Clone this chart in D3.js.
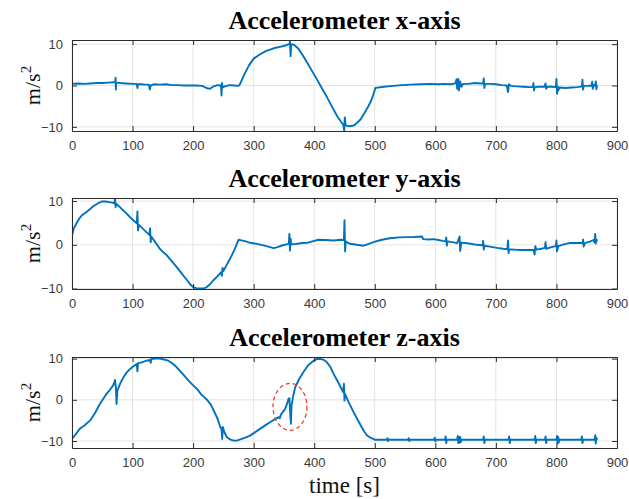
<!DOCTYPE html>
<html>
<head>
<meta charset="utf-8">
<script src="https://cdn.jsdelivr.net/npm/d3@7"></script>
<style>
  html, body { margin: 0; padding: 0; background: #fff; }
  svg { display: block; }
</style>
</head>
<body>
<div id="chart"></div>
<script>
// ---------------- DATA (time [s], acceleration [m/s^2]) ----------------
const xTickValues = [0, 100, 200, 300, 400, 500, 600, 700, 800, 900];
const yTickValues = [-10, 0, 10];
const titles = ["Accelerometer x-axis", "Accelerometer y-axis", "Accelerometer z-axis"];
const yDomains = [[-11, 11], [-10.1, 10.7], [-11.7, 10.4]];
const timeDomain = [0, 900];

const accX = [[0,0.4],[10,0.5],[20,0.4],[30,0.5],[40,0.6],[50,0.6],[60,0.7],[70,0.8],[71.5,0.8],[72,1.9],[72.5,-1.0],[73,0.7],[80,0.6],[90,0.5],[100,0.4],[107,0.4],[108,-0.6],[109,0.3],[115,0.3],[120,0.2],[127,0.2],[128.5,-1.0],[130,0],[135,0.3],[145,0.2],[155,0.3],[165,0.1],[175,0.1],[185,0],[195,0],[205,0],[215,-0.1],[222,-0.6],[228,-0.8],[234,-0.2],[240,0.1],[246,0],[247,-2.4],[247.6,0.6],[248.5,-0.5],[252,-0.2],[260,0.1],[268,0],[275,-0.1],[277,0.2],[285,2.8],[292,4.8],[300,6.5],[310,7.5],[320,8.3],[333,9.0],[345,9.4],[355,9.8],[359,10.0],[360,10.7],[361,7.1],[362,9.9],[366,9.9],[374,8.9],[381,7.3],[388,5.6],[396,3.6],[404,1.6],[412,-0.5],[421,-2.8],[430,-5.3],[437.5,-7.3],[444,-8.7],[448,-9.5],[449.5,-10.9],[450.5,-7.7],[452,-9.7],[459.5,-9.85],[466,-9.6],[471,-9.0],[477,-8.1],[482,-6.9],[488,-5.4],[493,-4.0],[497,-2.5],[501,-0.6],[505,-0.5],[515,-0.3],[530,-0.1],[545,0.1],[560,0.2],[575,0.3],[592,0.4],[605,0.3],[615,0.4],[625,0.3],[633,0.5],[635,1.5],[636,-0.8],[638,1.6],[639,-1.2],[641,1.0],[643,-0.3],[646,0.4],[655,0.4],[665,0.6],[675,0.5],[679,0.5],[680,1.7],[681,-0.6],[682,0.4],[690,0.4],[700,0.3],[710,0.1],[718,0.0],[720,-1.6],[721.5,0.3],[725,-0.1],[735,-0.2],[745,-0.3],[755,-0.4],[761,-0.4],[762,0.6],[763,-1.2],[764,-0.4],[770,-0.3],[780,-0.3],[782,0.5],[783,-0.8],[785,-0.3],[792,-0.3],[799,-0.4],[800,1.6],[801,-2.0],[802,-0.2],[803,-1.2],[805,-0.5],[815,-0.6],[825,-0.5],[835,-0.4],[842,-0.2],[843,1.4],[844,-1.0],[845,-0.1],[852,-0.1],[858,0],[859,0.9],[860,-0.8],[862,0.1],[864,0],[865,1.0],[866,-0.9],[867,0.1]];

const accY = [[0,2.1],[3,3.8],[7,4.8],[12,6.0],[16,6.7],[24,7.5],[30,8.2],[35,8.8],[42,9.4],[49,9.9],[55,9.9],[62,9.75],[68,9.6],[70,9.5],[71,10.7],[72,8.6],[73,9.4],[77,8.9],[82,8.2],[89,7.3],[96,6.3],[102,5.5],[107,4.9],[108,7.6],[109,3.3],[110,4.6],[116,3.8],[123,2.9],[128,2.2],[129,3.8],[130,0.6],[131,1.9],[138,0.5],[145,-0.9],[150,-1.6],[156,-2.3],[165,-3.8],[173,-5.1],[182,-6.7],[190,-8.1],[195,-9.0],[200,-9.65],[205,-9.9],[211,-10.0],[217,-10.0],[222,-9.7],[228,-9.0],[233.5,-8.1],[240,-7.2],[246,-6.3],[247.5,-7.1],[248.5,-5.3],[250,-6.0],[255,-4.7],[261,-3.2],[268,-1.2],[275,1.15],[280,1.0],[287,0.8],[294,0.46],[305,0.23],[318,-0.2],[333,-0.75],[338,-0.6],[348,-0.1],[358,0.2],[359,2.5],[360,-1.3],[361,1.4],[362,0.1],[370,0.2],[380,0.4],[388,0.45],[397,0.8],[407,1.15],[420,1.1],[432,1.0],[443,1.15],[449,1.1],[450,5.6],[451,-1.5],[452,0.8],[455,0.5],[459.5,0.23],[470,0],[481.5,-0.2],[490,0.2],[498,0.6],[510,1.1],[525,1.5],[540,1.7],[553,1.75],[565,1.8],[578,1.9],[580,1.3],[590,1.2],[597,1.3],[605,1.1],[612,0.9],[617,0.8],[618,1.7],[619,-0.2],[620,0.8],[628,0.6],[636,0.4],[640,1.9],[641,-1.4],[643,0.5],[650,0.4],[658,0.23],[668,0],[678,-0.1],[679,0.9],[680,-1.1],[681,-0.2],[690,-0.4],[702,-0.7],[712,-0.9],[719,-1.0],[720,1.0],[721,-1.9],[722,-1.0],[730,-1.1],[740,-1.2],[752,-1.2],[762,-1.2],[764,-2.2],[765,-0.3],[767,-1.1],[775,-0.9],[781,-0.7],[782,0.6],[783,-0.9],[790,-0.6],[799,-0.3],[800,1.0],[801,-1.5],[803,-0.3],[812,0.1],[823,0.45],[833,0.4],[843,0.4],[844,1.2],[845,-0.4],[847,0.4],[856,0.8],[861,1.1],[863,0.5],[864,2.5],[865,0.3],[867,1.3]];

const accZ = [[0,-9.5],[6,-8.4],[13,-7.0],[20,-6.3],[30,-5.0],[38,-3.2],[46,-1.0],[52,0.3],[57,1.45],[63,2.5],[68,3.5],[70,4.3],[71,4.85],[72.5,3.0],[73.5,-1.0],[75,2.25],[80,4.1],[85,5.5],[90,6.6],[96,7.5],[102,8.2],[107,8.7],[108,6.9],[109,8.9],[115,9.1],[123,9.5],[129,9.7],[130,9.0],[131,9.9],[137,10.0],[145,10.0],[152,9.8],[159,9.5],[166,8.8],[173,7.9],[181,6.6],[190,5.1],[198,3.8],[206,2.7],[214,1.2],[223,0],[229,-1.1],[234,-2.6],[240,-4.5],[245,-6.6],[247,-7.2],[248,-9.5],[249,-6.6],[252,-8.0],[256,-9.1],[261,-9.6],[267,-9.9],[272,-9.9],[278,-9.6],[286,-9.2],[294,-8.7],[302,-7.9],[311,-7.0],[319,-6.2],[327.6,-5.4],[334,-4.8],[341,-4.2],[343,-4.5],[345,-3.6],[352,-2.2],[355,-1.0],[357.6,0.25],[359,0.4],[360,-2.5],[361.5,-5.8],[362.5,-1.5],[364.8,0.6],[368.6,3.05],[375,5.0],[382,6.7],[390,8.4],[399,9.5],[404,9.9],[410,9.95],[416,9.7],[421,9.1],[427,7.9],[432,6.3],[438,4.7],[444,3.0],[448,1.85],[449,3.9],[450,-0.2],[451,1.4],[457,-0.6],[465,-3.0],[473,-5.2],[481.5,-7.45],[487,-8.6],[492.6,-9.2],[500.8,-9.7],[510,-9.7],[520,-9.7],[521,-9.3],[522,-10.0],[523,-9.7],[545,-9.7],[555,-9.7],[556,-9.3],[557,-10.0],[558,-9.7],[585,-9.7],[598,-9.7],[599,-9.2],[600,-10.1],[601,-9.7],[616,-9.7],[617,-8.9],[618,-10.5],[619,-9.7],[636,-9.7],[637,-8.8],[638,-10.5],[639,-9.0],[640,-10.4],[641,-9.0],[642,-10.3],[643,-9.7],[660,-9.7],[679,-9.7],[680,-8.9],[681,-10.5],[682,-9.7],[700,-9.7],[721,-9.7],[722,-8.9],[723,-10.5],[724,-9.7],[745,-9.7],[764,-9.7],[765,-8.8],[766,-10.5],[767,-9.7],[781,-9.7],[782,-8.9],[783,-10.5],[784,-9.7],[800,-9.7],[801,-8.8],[802,-10.6],[803,-9.0],[804,-10.3],[805,-9.7],[820,-9.7],[841,-9.7],[842,-8.9],[843,-10.5],[844,-9.7],[855,-9.7],[863,-9.7],[864,-8.6],[865,-10.6],[866,-9.2],[867,-9.7]];

// highlighted event on z-axis: [time, value, half-width (s), half-height (m/s^2)]
const circledEvent = [360, -1.7, 28, 5.7];

const series = [accX, accY, accZ];

// ---------------- LAYOUT ----------------
const W = 629, H = 499;
const left = 72, right = 617;
const panelTops = [40, 198, 357];
const panelH = 91;
const serif = "'Liberation Serif', 'Times New Roman', serif";
const sans = "'Liberation Sans', Arial, Helvetica, sans-serif";
const axisColor = "#2b2b2b";
const lineColor = "#0072BD";

const svg = d3.select("#chart").append("svg")
  .attr("width", W).attr("height", H)
  .attr("viewBox", `0 0 ${W} ${H}`);

const x = d3.scaleLinear().domain(timeDomain).range([left, right]);

series.forEach((data, i) => {
  const top = panelTops[i], bottom = top + panelH;
  const y = d3.scaleLinear().domain(yDomains[i]).range([bottom, top]);
  const g = svg.append("g");

  // grid
  g.append("g").selectAll("line.vx").data(xTickValues).join("line")
    .attr("x1", d => x(d)).attr("x2", d => x(d))
    .attr("y1", top).attr("y2", bottom)
    .attr("stroke", "#e3e3e3").attr("stroke-width", 1);
  g.append("g").selectAll("line.hy").data(yTickValues).join("line")
    .attr("x1", left).attr("x2", right)
    .attr("y1", d => y(d)).attr("y2", d => y(d))
    .attr("stroke", "#e3e3e3").attr("stroke-width", 1);

  // clip
  const clipId = "clip" + i;
  svg.append("clipPath").attr("id", clipId).append("rect")
    .attr("x", left).attr("y", top).attr("width", right - left).attr("height", panelH);

  // data line
  const line = d3.line().x(d => x(d[0])).y(d => y(d[1]));
  g.append("path").datum(data)
    .attr("d", line)
    .attr("fill", "none")
    .attr("stroke", lineColor)
    .attr("stroke-width", 1.9)
    .attr("stroke-linejoin", "round")
    .attr("clip-path", `url(#${clipId})`);

  // axes (ticks inward)
  const tickLen = 5;
  const axB = d3.axisBottom(x).tickValues(xTickValues).tickSizeInner(-tickLen).tickSizeOuter(0).tickPadding(tickLen + 5).tickFormat(d3.format("d"));
  const axT = d3.axisTop(x).tickValues(xTickValues.slice(0, -1)).tickSizeInner(-tickLen).tickSizeOuter(0).tickFormat("");
  const axL = d3.axisLeft(y).tickValues(yTickValues).tickSizeInner(-tickLen).tickSizeOuter(0).tickPadding(tickLen + 4).tickFormat(d3.format("d"));
  const axR = d3.axisRight(y).tickValues(yTickValues).tickSizeInner(-tickLen).tickSizeOuter(0).tickFormat("");

  const styleAxis = sel => {
    sel.selectAll("path.domain").attr("stroke", axisColor).attr("stroke-width", 1);
    sel.selectAll(".tick line").attr("stroke", axisColor).attr("stroke-width", 1);
    sel.selectAll(".tick text").attr("fill", "#3a3a3a").style("font-family", sans).style("font-size", "13px");
  };
  g.append("g").attr("transform", `translate(0,${bottom})`).call(axB).call(styleAxis);
  g.append("g").attr("transform", `translate(0,${top})`).call(axT).call(styleAxis);
  g.append("g").attr("transform", `translate(${left},0)`).call(axL).call(styleAxis);
  g.append("g").attr("transform", `translate(${right},0)`).call(axR).call(styleAxis);

  // title
  g.append("text")
    .attr("x", (left + right) / 2).attr("y", top - 11)
    .attr("text-anchor", "middle")
    .style("font-family", serif).style("font-weight", "bold").style("font-size", "26px")
    .attr("fill", "#000")
    .text(titles[i]);

  // y label m/s^2
  const yl = g.append("text")
    .attr("transform", `translate(40,${(top + bottom) / 2}) rotate(-90)`)
    .attr("text-anchor", "middle")
    .style("font-family", serif).style("font-size", "22px")
    .attr("fill", "#111");
  yl.append("tspan").text("m/s");
  yl.append("tspan").attr("dy", -9).style("font-size", "15px").text("2");

  // annotation ellipse on z-axis panel
  if (i === 2) {
    const [ct, cv, dt, dv] = circledEvent;
    g.append("ellipse")
      .attr("cx", x(ct)).attr("cy", y(cv))
      .attr("rx", x(ct + dt) - x(ct))
      .attr("ry", y(cv - dv) - y(cv))
      .attr("fill", "none")
      .attr("stroke", "#e8402c")
      .attr("stroke-width", 1.3)
      .attr("stroke-dasharray", "4,3");
  }
});

// x label
svg.append("text")
  .attr("x", (left + right) / 2).attr("y", 493)
  .attr("text-anchor", "middle")
  .style("font-family", serif).style("font-size", "23px")
  .attr("fill", "#111")
  .text("time [s]");
</script>
</body>
</html>
